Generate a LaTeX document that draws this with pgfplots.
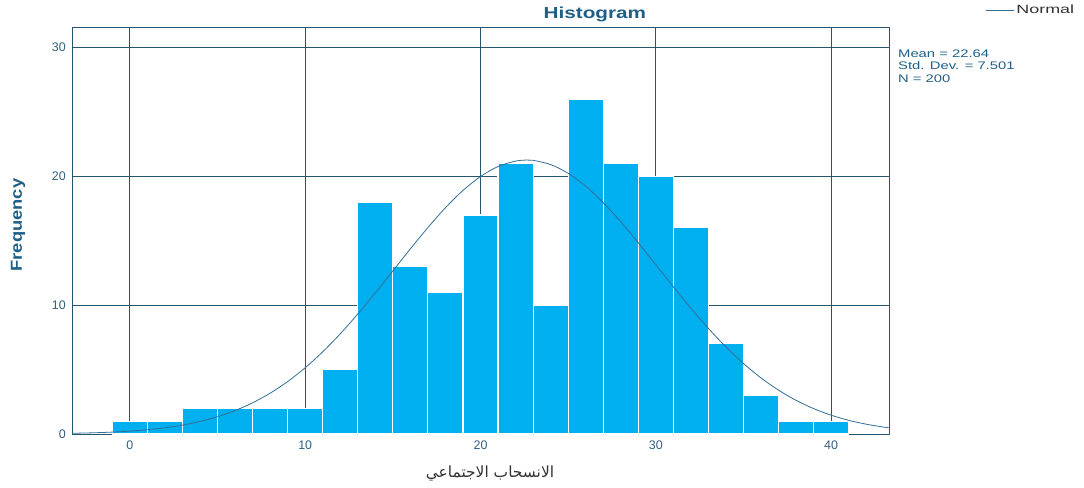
\documentclass[border=0pt]{standalone}
\usepackage{fontspec}
\usepackage{pgfplots}
\pgfplotsset{compat=1.18}
\setmainfont{Liberation Sans}
\newfontfamily\arabicfont[Script=Arabic]{DejaVu Sans}
\TeXXeTstate=1

\definecolor{barc}{RGB}{0,175,240}
\definecolor{gridc}{RGB}{40,85,110}
\definecolor{tickc}{RGB}{50,95,125}
\definecolor{titlec}{RGB}{30,95,135}
\definecolor{curvec}{RGB}{50,110,150}

\begin{document}
\begin{tikzpicture}
\useasboundingbox (-72bp,-54bp) rectangle (1012bp,434bp);
\begin{axis}[
  at={(0,0)}, anchor=south west,
  scale only axis, width=817bp, height=407bp,
  xmin=-3.3, xmax=43.3, ymin=0, ymax=31.6,
  xtick={0,10,20,30,40}, ytick={0,10,20,30},
  grid=major,
  major grid style={color=gridc, line width=0.8pt},
  axis line style={gridc, line width=0.8pt},
  major tick length=0pt,
  /pgf/number format/assume math mode=true,
  ticklabel style={font=\fontsize{12.5}{14}\selectfont, text=tickc},
  xticklabel style={anchor=north, inner sep=0pt, yshift=-7bp},
  yticklabel style={anchor=east, inner sep=0pt, xshift=-6bp},
  clip=false,
  legend style={at={(1.118,1.042)}, anchor=west, draw=none, fill=none,
    font=\fontsize{12}{13}\selectfont, text=black!80, inner sep=0pt},
  legend image code/.code={\draw[#1] (0bp,0bp) -- (28bp,0bp);},
]
\addplot[ybar interval, fill=barc, draw=white, line width=1.1pt, forget plot]
coordinates {
(-1,1) (1,1) (3,2) (5,2) (7,2) (9,2) (11,5) (13,18) (15,13) (17,11)
(19,17) (21,21) (23,10) (25,26) (27,21) (29,20) (31,16) (33,7) (35,3)
(37,1) (39,1) (41,1)
};
\addplot[smooth, curvec, line width=0.8pt] coordinates {
(-3.3,0.054) (-2,0.097) (-1,0.148) (0,0.224) (1,0.332) (2,0.482) (3,0.690)
(4,0.970) (5,1.339) (6,1.816) (7,2.420) (8,3.167) (9,4.071) (10,5.143)
(11,6.381) (12,7.779) (13,9.314) (14,10.957) (15,12.66) (16,14.376)
(17,16.03) (18,17.567) (19,18.91) (20,19.99) (21,20.77) (22,21.19)
(22.64,21.27) (23,21.25) (24,20.92) (25,20.24) (26,19.24) (27,17.96)
(28,16.48) (29,14.85) (30,13.14) (31,11.43) (32,9.765) (33,8.196)
(34,6.755) (35,5.473) (36,4.354) (37,3.403) (38,2.614) (39,1.972)
(40,1.461) (41,1.064) (42,0.761) (43,0.534) (43.3,0.479)
};
\addlegendentry{\scalebox{1.5}[1]{Normal}}

\node[font=\bfseries\fontsize{16}{18}\selectfont, text=titlec]
  at (axis description cs:0.640,1.032) {\scalebox{1.3}[1]{Histogram}};
\node[anchor=north west, align=left, inner sep=0pt, text=titlec,
  font=\fontsize{11}{12.5}\selectfont]
  at (axis description cs:1.011,0.945)
  {\scalebox{1.35}[1]{Mean = 22.64}\\\scalebox{1.35}[1]{Std. Dev. = 7.501}\\\scalebox{1.35}[1]{N = 200}};
\node[rotate=90, font=\bfseries\fontsize{16}{18}\selectfont, text=titlec]
  at (axis description cs:-0.0661,0.5135) {\scalebox{1.15}[1]{Frequency}};
\node[text=black!80, font=\fontsize{15.5}{17}\selectfont]
  at (axis description cs:0.5116,-0.0983) {\arabicfont\beginR الانسحاب الاجتماعي\endR};
\end{axis}
\end{tikzpicture}
\end{document}
